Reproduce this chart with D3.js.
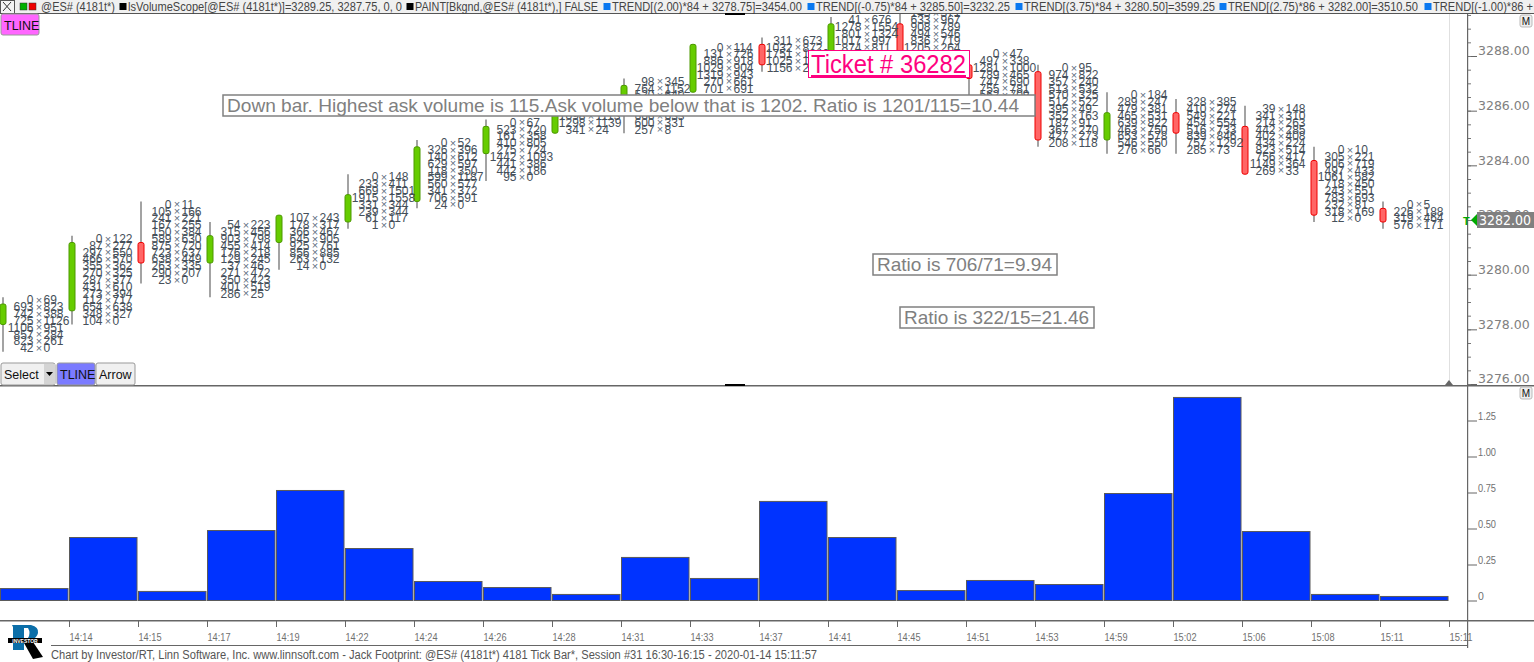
<!DOCTYPE html>
<html>
<head>
<meta charset="utf-8">
<script src="https://cdn.jsdelivr.net/npm/d3@7"></script>
<style>
  html, body { margin: 0; padding: 0; background: #fff; overflow: hidden; }
  text { font-family: "Liberation Sans", sans-serif; }
</style>
</head>
<body>
<svg id="chart" width="1534" height="662"></svg>
<script>
const time_labels = ["14:14","14:15","14:17","14:19","14:22","14:24","14:26","14:28","14:31","14:33","14:37","14:41","14:45","14:51","14:53","14:59","15:02","15:06","15:08","15:11","15:11"];

const open_prices  = [3278.25,3278.75,3281.25,3280.5,3281.25,3282,3282.75,3284.5,3285.25,3286.25,3286.75,3288.5,3288,3289.25,3287.75,3287.5,3285,3286,3285.5,3284.25,3282.5];
const close_prices = [3279,3281.25,3280.5,3281.5,3282.25,3283,3284.75,3285.5,3286.25,3287,3288.5,3287.75,3289.25,3288,3287.25,3285,3286,3285.25,3283.75,3282.25,3282];
const high_prices  = [3279.25,3281.5,3282.75,3282,3282.25,3283.75,3285,3285.75,3286.5,3287.25,3288.5,3288.75,3289.5,3289.75,3288.25,3287.75,3286.75,3286.5,3286.25,3284.75,3282.75];
const low_prices   = [3277.25,3278.25,3279.75,3279.25,3280.25,3281.75,3282.5,3283.5,3285.25,3285.25,3286.75,3287.5,3287.5,3287.5,3286.25,3284.75,3284.5,3284.5,3283.75,3282,3281.75];

// first row of each footprint sits at the bar high, rows go down one tick at a time
const bid_rows = [
  [0,693,742,725,1106,857,823,42],
  [0,87,297,466,355,270,287,431,273,112,654,348,104],
  [0,105,241,167,150,589,875,723,638,263,290,23],
  [54,315,903,455,176,129,37,271,350,401,286],
  [107,178,366,645,925,856,263,14],
  [0,233,669,1915,331,239,61,1],
  [0,326,140,629,118,599,560,341,706,24],
  [0,523,161,410,275,1442,441,442,95],
  [0,412,1098,1298,341],
  [98,764,520,611,430,666,600,257],
  [0,131,886,1029,1319,270,701],
  [311,1032,1751,1025,1156],
  [41,1278,801,1017,874],
  [143,633,908,494,836,1205],
  [0,497,1281,789,747,755,562],
  [0,974,357,513,570,512,395,352,187,367,427,208],
  [0,289,479,465,639,463,653,546,276],
  [328,410,549,454,516,839,757,285],
  [39,341,214,442,402,434,823,756,1149,269],
  [0,305,606,497,1061,718,243,783,232,318,12],
  [0,226,319,576],
];
const ask_rows = [
  [69,823,388,1126,951,284,261,0],
  [122,277,550,570,362,325,377,610,394,717,638,327,0],
  [11,166,221,255,384,630,720,637,449,335,207,0],
  [223,456,798,414,218,245,46,472,423,519,25],
  [243,317,467,905,761,885,132,0],
  [148,411,1501,1558,344,344,117,0],
  [52,396,612,597,350,1187,577,372,591,0],
  [67,720,358,805,724,1093,386,186,0],
  [88,530,1113,1139,24],
  [345,1152,640,702,515,633,331,8],
  [114,726,918,904,943,661,691],
  [673,872,1240,1180,260],
  [676,1554,1324,997,811],
  [371,967,789,546,719,264],
  [47,338,1000,465,690,781,709],
  [95,822,240,532,325,522,49,163,91,270,273,118],
  [184,247,381,531,822,750,578,550,66],
  [385,274,221,554,733,846,1292,73],
  [148,310,263,285,408,224,514,417,364,33],
  [10,221,719,433,582,450,551,693,81,169,0],
  [5,188,464,171],
];

const ratio_values = [0.083,0.4375,0.063,0.486,0.764,0.361,0.132,0.09,0.042,0.299,0.153,0.688,0.4375,0.069,0.139,0.111,0.743,1.41,0.479,0.042,0.028];

const price_ticks = [3288,3286,3284,3282,3280,3278,3276];
const price_minor_ticks = d3.range(3276, 3290, 0.5);
const ratio_ticks = [0,0.25,0.5,0.75,1,1.25];

const header_items = [
  { swatch: null, x: 41, w: 74, label: "@ES# (4181t*)" },
  { swatch: "#000", x: 128, w: 274, label: "lsVolumeScope[@ES# (4181t*)]=3289.25, 3287.75, 0, 0" },
  { swatch: "#000", x: 415, w: 183, label: "PAINT[Bkgnd,@ES# (4181t*),] FALSE" },
  { swatch: "#0a78f0", x: 612, w: 190, label: "TREND[(2.00)*84 + 3278.75]=3454.00" },
  { swatch: "#0a78f0", x: 816, w: 194, label: "TREND[(-0.75)*84 + 3285.50]=3232.25" },
  { swatch: "#0a78f0", x: 1024, w: 191, label: "TREND[(3.75)*84 + 3280.50]=3599.25" },
  { swatch: "#0a78f0", x: 1228, w: 190, label: "TREND[(2.75)*86 + 3282.00]=3510.50" },
  { swatch: "#0a78f0", x: 1433, w: 100, label: "TREND[(-1.00)*86 +" },
];

const note_boxes = [
  { x: 223, y: 95, w: 812, h: 21, tx: 227, tw: 792, size: 18.5, label: "Down bar. Highest ask volume is 115.Ask volume below that is 1202. Ratio is 1201/115=10.44" },
  { x: 873, y: 254, w: 184, h: 21, tx: 877, tw: 175, size: 18.5, label: "Ratio is 706/71=9.94" },
  { x: 900, y: 307, w: 194, h: 21, tx: 904, tw: 185, size: 18.5, label: "Ratio is 322/15=21.46" },
];

const footer_text = "Chart by Investor/RT, Linn Software, Inc. www.linnsoft.com - Jack Footprint: @ES# (4181t*) 4181 Tick Bar*, Session #31 16:30-16:15 - 2020-01-14 15:11:57";

const svg = d3.select("#chart");
const axis_x = 1467;
const gray = "#808080";

const x = d3.scaleLinear().domain([0, 21]).range([0, 1449]);
const y_price = d3.scaleLinear().domain([3288, 3276]).range([56, 384]);
const y_ratio = d3.scaleLinear().domain([0, 1.25]).range([600.5, 420.5]);
const candle_y = (p) => y_price(p) + 2;
const center = (i) => x(i) + 3;

svg.append("defs").append("clipPath").attr("id", "top-pane")
  .append("rect").attr("x", 0).attr("y", 14).attr("width", axis_x).attr("height", 371);

// upper pane: candles and footprint text
const pane = svg.append("g").attr("clip-path", "url(#top-pane)");

pane.append("line").attr("x1", 1449.5).attr("x2", 1449.5).attr("y1", 14).attr("y2", 385).attr("stroke", "#e0e0e0");

const candles = pane.selectAll("g.candle").data(time_labels).enter().append("g").attr("class", "candle");

candles.append("line")
  .attr("x1", (d, i) => center(i)).attr("x2", (d, i) => center(i))
  .attr("y1", (d, i) => candle_y(high_prices[i]))
  .attr("y2", (d, i) => candle_y(low_prices[i]))
  .attr("stroke", "#a3a3a3").attr("stroke-width", 2);

candles.append("rect")
  .attr("x", (d, i) => center(i) - 3)
  .attr("width", 6)
  .attr("y", (d, i) => candle_y(Math.max(open_prices[i], close_prices[i])))
  .attr("height", (d, i) => Math.abs(candle_y(open_prices[i]) - candle_y(close_prices[i])))
  .attr("rx", 2)
  .attr("fill", (d, i) => close_prices[i] >= open_prices[i] ? "#66cc00" : "#ff6666")
  .attr("stroke", (d, i) => close_prices[i] >= open_prices[i] ? "#4c9900" : "#ee0000");

const rows = [];
bid_rows.forEach((bids, i) => {
  bids.forEach((bid, r) => {
    rows.push({ i: i, price: high_prices[i] - r * 0.25, bid: bid, ask: ask_rows[i][r] });
  });
});

const row_y = (d) => y_price(d.price) + 5;
const foot = pane.append("g").style("font-family", "'DejaVu Sans'").style("font-size", "12px").attr("fill", "#46505a");

foot.selectAll("text.bid").data(rows).enter().append("text")
  .attr("class", "bid")
  .attr("x", (d) => center(d.i) + 30.5)
  .attr("y", row_y).attr("dy", "0.36em").attr("text-anchor", "end")
  .text((d) => d.bid);

foot.selectAll("text.times").data(rows).enter().append("text")
  .attr("class", "times")
  .attr("x", (d) => center(d.i) + 36)
  .attr("y", row_y).attr("dy", "0.36em").attr("text-anchor", "middle")
  .style("font-size", "11px").attr("fill", "#5f6f82")
  .text("×");

foot.selectAll("text.ask").data(rows).enter().append("text")
  .attr("class", "ask")
  .attr("x", (d) => center(d.i) + 40.5)
  .attr("y", row_y).attr("dy", "0.36em")
  .text((d) => d.ask);

// note boxes
const notes = pane.selectAll("g.note").data(note_boxes).enter().append("g").attr("class", "note");
notes.append("rect")
  .attr("x", (d) => d.x).attr("y", (d) => d.y).attr("width", (d) => d.w).attr("height", (d) => d.h)
  .attr("fill", "#fff").attr("stroke", gray).attr("stroke-width", 1.5);
notes.append("text")
  .attr("x", (d) => d.tx).attr("y", (d) => d.y + d.h / 2).attr("dy", "0.36em")
  .attr("textLength", (d) => d.tw).attr("lengthAdjust", "spacingAndGlyphs")
  .style("font-size", (d) => d.size + "px").attr("fill", gray)
  .text((d) => d.label);

pane.append("rect").attr("x", 808.5).attr("y", 50.5).attr("width", 161).attr("height", 27)
  .attr("fill", "#fff").attr("stroke", "#ff0080").attr("stroke-width", 1);
pane.append("text").attr("x", 811).attr("y", 73).attr("textLength", 155).attr("lengthAdjust", "spacingAndGlyphs")
  .style("font-size", "26px").attr("fill", "#ff0080").text("Ticket # 36282");
pane.append("rect").attr("x", 811).attr("y", 75).attr("width", 155).attr("height", 2).attr("fill", "#ff0080");

// lower pane
svg.selectAll("rect.ratio").data(ratio_values).enter().append("rect")
  .attr("class", "ratio")
  .attr("x", (d, i) => x(i) + 0.5)
  .attr("y", (d) => y_ratio(d))
  .attr("width", 67.5)
  .attr("height", (d) => y_ratio(0) - y_ratio(d))
  .attr("fill", "#0033ff").attr("stroke", "#5a5a5a").attr("stroke-width", 1);

// price axis
const price_axis = svg.append("g").attr("transform", `translate(${axis_x},0)`)
  .call(d3.axisRight(y_price).tickValues(price_ticks).tickFormat(d3.format(".2f")).tickSize(10).tickPadding(1));
price_axis.select(".domain").remove();
price_axis.selectAll("line").attr("stroke", "#666");
price_axis.selectAll("text").attr("dy", "-0.1em").attr("fill", gray).style("font-family", "'DejaVu Sans'").style("font-size", "12.5px");

svg.append("g").selectAll("line").data(price_minor_ticks).enter().append("line")
  .attr("x1", axis_x).attr("x2", axis_x + 4)
  .attr("y1", (d) => y_price(d) + 0.5).attr("y2", (d) => y_price(d) + 0.5)
  .attr("stroke", "#777");

// ratio axis
const ratio_axis = svg.append("g").attr("transform", `translate(${axis_x},0)`)
  .call(d3.axisRight(y_ratio).tickValues(ratio_ticks).tickFormat((d) => d === 0 ? "0" : d3.format(".2f")(d)).tickSize(10).tickPadding(1));
ratio_axis.select(".domain").remove();
ratio_axis.selectAll("line").attr("stroke", "#666");
ratio_axis.selectAll("text").attr("dy", "-0.1em").attr("fill", "#707070").style("font-size", "10.5px")
  .attr("textLength", (d) => d === 0 ? null : 18).attr("lengthAdjust", "spacingAndGlyphs");

// time axis
const time_axis = svg.append("g").attr("transform", "translate(0,621)")
  .call(d3.axisBottom(x).tickValues(d3.range(1, 22)).tickFormat((d) => time_labels[d - 1]).tickSize(6).tickPadding(6));
time_axis.select(".domain").remove();
time_axis.selectAll("line").attr("stroke", "#666");
time_axis.selectAll("text").attr("text-anchor", "start").attr("fill", "#707070").style("font-size", "11px")
  .attr("textLength", 23).attr("lengthAdjust", "spacingAndGlyphs");

// frame lines
svg.append("rect").attr("x", 0).attr("y", 385).attr("width", 1534).attr("height", 1.5).attr("fill", "#666");
svg.append("rect").attr("x", 0).attr("y", 620).attr("width", 1534).attr("height", 1.5).attr("fill", "#666");
svg.append("rect").attr("x", axis_x).attr("y", 14).attr("width", 1.2).attr("height", 634).attr("fill", "#666");
svg.append("rect").attr("x", 51).attr("y", 645).attr("width", axis_x - 51).attr("height", 1).attr("fill", "#666");
svg.append("rect").attr("x", 725).attr("y", 384).attr("width", 20).attr("height", 2).attr("fill", "#000");
svg.append("path").attr("d", "M1445 385 L1449 380 L1453 385 Z").attr("fill", "#666");

// last price tag
svg.append("rect").attr("x", 1477).attr("y", 212).attr("width", 57).attr("height", 16).attr("fill", gray);
svg.append("text").attr("x", 1479).attr("y", 220).attr("dy", "0.36em").attr("fill", "#fff")
  .style("font-family", "'DejaVu Sans'").style("font-size", "14px").attr("textLength", 52).attr("lengthAdjust", "spacingAndGlyphs").text("3282.00");
svg.append("path").attr("d", "M1471 220 L1477 214 L1477 226 Z").attr("fill", "#00aa00");
svg.append("text").attr("x", 1463).attr("y", 225).style("font-size", "11px").style("font-weight", "bold").attr("fill", "#00aa00").text("T");

// header strip
svg.append("rect").attr("x", 0).attr("y", 0).attr("width", 1534).attr("height", 13).attr("fill", "#f0f0f0");
svg.append("rect").attr("x", 0).attr("y", 13).attr("width", 1534).attr("height", 1).attr("fill", "#555");
svg.append("rect").attr("x", 725).attr("y", 13).attr("width", 20).attr("height", 2).attr("fill", "#000");
svg.append("rect").attr("x", 0.5).attr("y", 0.5).attr("width", 14).attr("height", 13).attr("fill", "#f4f4f4").attr("stroke", "#555");
svg.append("path").attr("d", "M3 2 L11 11 M11 2 L3 11").attr("stroke", "#333").attr("fill", "none");
svg.append("rect").attr("x", 20).attr("y", 3).attr("width", 7).attr("height", 7).attr("fill", "#00b000").attr("stroke", "#333").attr("stroke-width", 0.5);
svg.append("rect").attr("x", 29).attr("y", 3).attr("width", 7).attr("height", 7).attr("fill", "#ee0000").attr("stroke", "#333").attr("stroke-width", 0.5);

svg.selectAll("rect.swatch").data(header_items.filter((d) => d.swatch)).enter().append("rect")
  .attr("class", "swatch")
  .attr("x", (d) => d.x - 8.5).attr("y", 3).attr("width", 7).attr("height", 7)
  .attr("fill", (d) => d.swatch);
svg.selectAll("text.head").data(header_items).enter().append("text")
  .attr("class", "head")
  .attr("x", (d) => d.x).attr("y", 11)
  .attr("textLength", (d) => d.w).attr("lengthAdjust", "spacingAndGlyphs")
  .style("font-size", "12.5px").attr("fill", "#444")
  .text((d) => d.label);

// tool buttons
const buttons = [
  { x: 1, y: 14, w: 38, h: 21, fill: "#ff66ff", label: "TLINE" },
  { x: 1, y: 363, w: 54, h: 22, fill: "#f0f0f0", label: "Select" },
  { x: 57, y: 363, w: 38, h: 22, fill: "#7b7bff", label: "TLINE" },
  { x: 96, y: 363, w: 39, h: 22, fill: "#f0f0f0", label: "Arrow" },
];
svg.selectAll("rect.btn").data(buttons).enter().append("rect")
  .attr("class", "btn")
  .attr("x", (d) => d.x).attr("y", (d) => d.y).attr("width", (d) => d.w).attr("height", (d) => d.h)
  .attr("rx", 2).attr("fill", (d) => d.fill).attr("stroke", "#999");
svg.selectAll("text.btn").data(buttons).enter().append("text")
  .attr("class", "btn")
  .attr("x", (d) => d.x + 3).attr("y", (d) => d.y + d.h / 2 + 0.5).attr("dy", "0.36em")
  .style("font-size", "12.5px").attr("fill", "#111")
  .text((d) => d.label);
svg.append("rect").attr("x", 44).attr("y", 364).attr("width", 11).attr("height", 20).attr("fill", "#d4d4d4");
svg.append("path").attr("d", "M46 372 L53 372 L49.5 376 Z").attr("fill", "#000");

// M buttons
[15, 387].forEach((top) => {
  svg.append("rect").attr("x", 1520).attr("y", top).attr("width", 12).attr("height", 12).attr("rx", 2)
    .attr("fill", "#eee").attr("stroke", "#bbb");
  svg.append("text").attr("x", 1526).attr("y", top + 10).attr("text-anchor", "middle")
    .style("font-size", "10px").attr("fill", "#111").text("M");
});

// footer and logo
svg.append("text").attr("x", 51).attr("y", 659).attr("textLength", 766).attr("lengthAdjust", "spacingAndGlyphs")
  .style("font-size", "12px").attr("fill", "#555").text(footer_text);

const logo = svg.append("g");
logo.append("path").attr("d", "M12 625 L31 625 Q39 627 38 633 Q37 638 31 640 L24 640 L24 650 L13 650 L13 627 Z M24 628 L24 638 L28 638 Q31 633 28 628 Z")
  .attr("fill", "#0b6ea8").attr("fill-rule", "evenodd");
logo.append("path").attr("d", "M24 643 L33 642 L43 657 L33 659 Z").attr("fill", "#000");
logo.append("rect").attr("x", 8).attr("y", 638).attr("width", 34).attr("height", 5).attr("fill", "#000");
logo.append("text").attr("x", 25).attr("y", 642.5).attr("text-anchor", "middle").style("font-size", "5px")
  .style("font-weight", "bold").attr("fill", "#fff").text("INVESTOR");
</script>
</body>
</html>
